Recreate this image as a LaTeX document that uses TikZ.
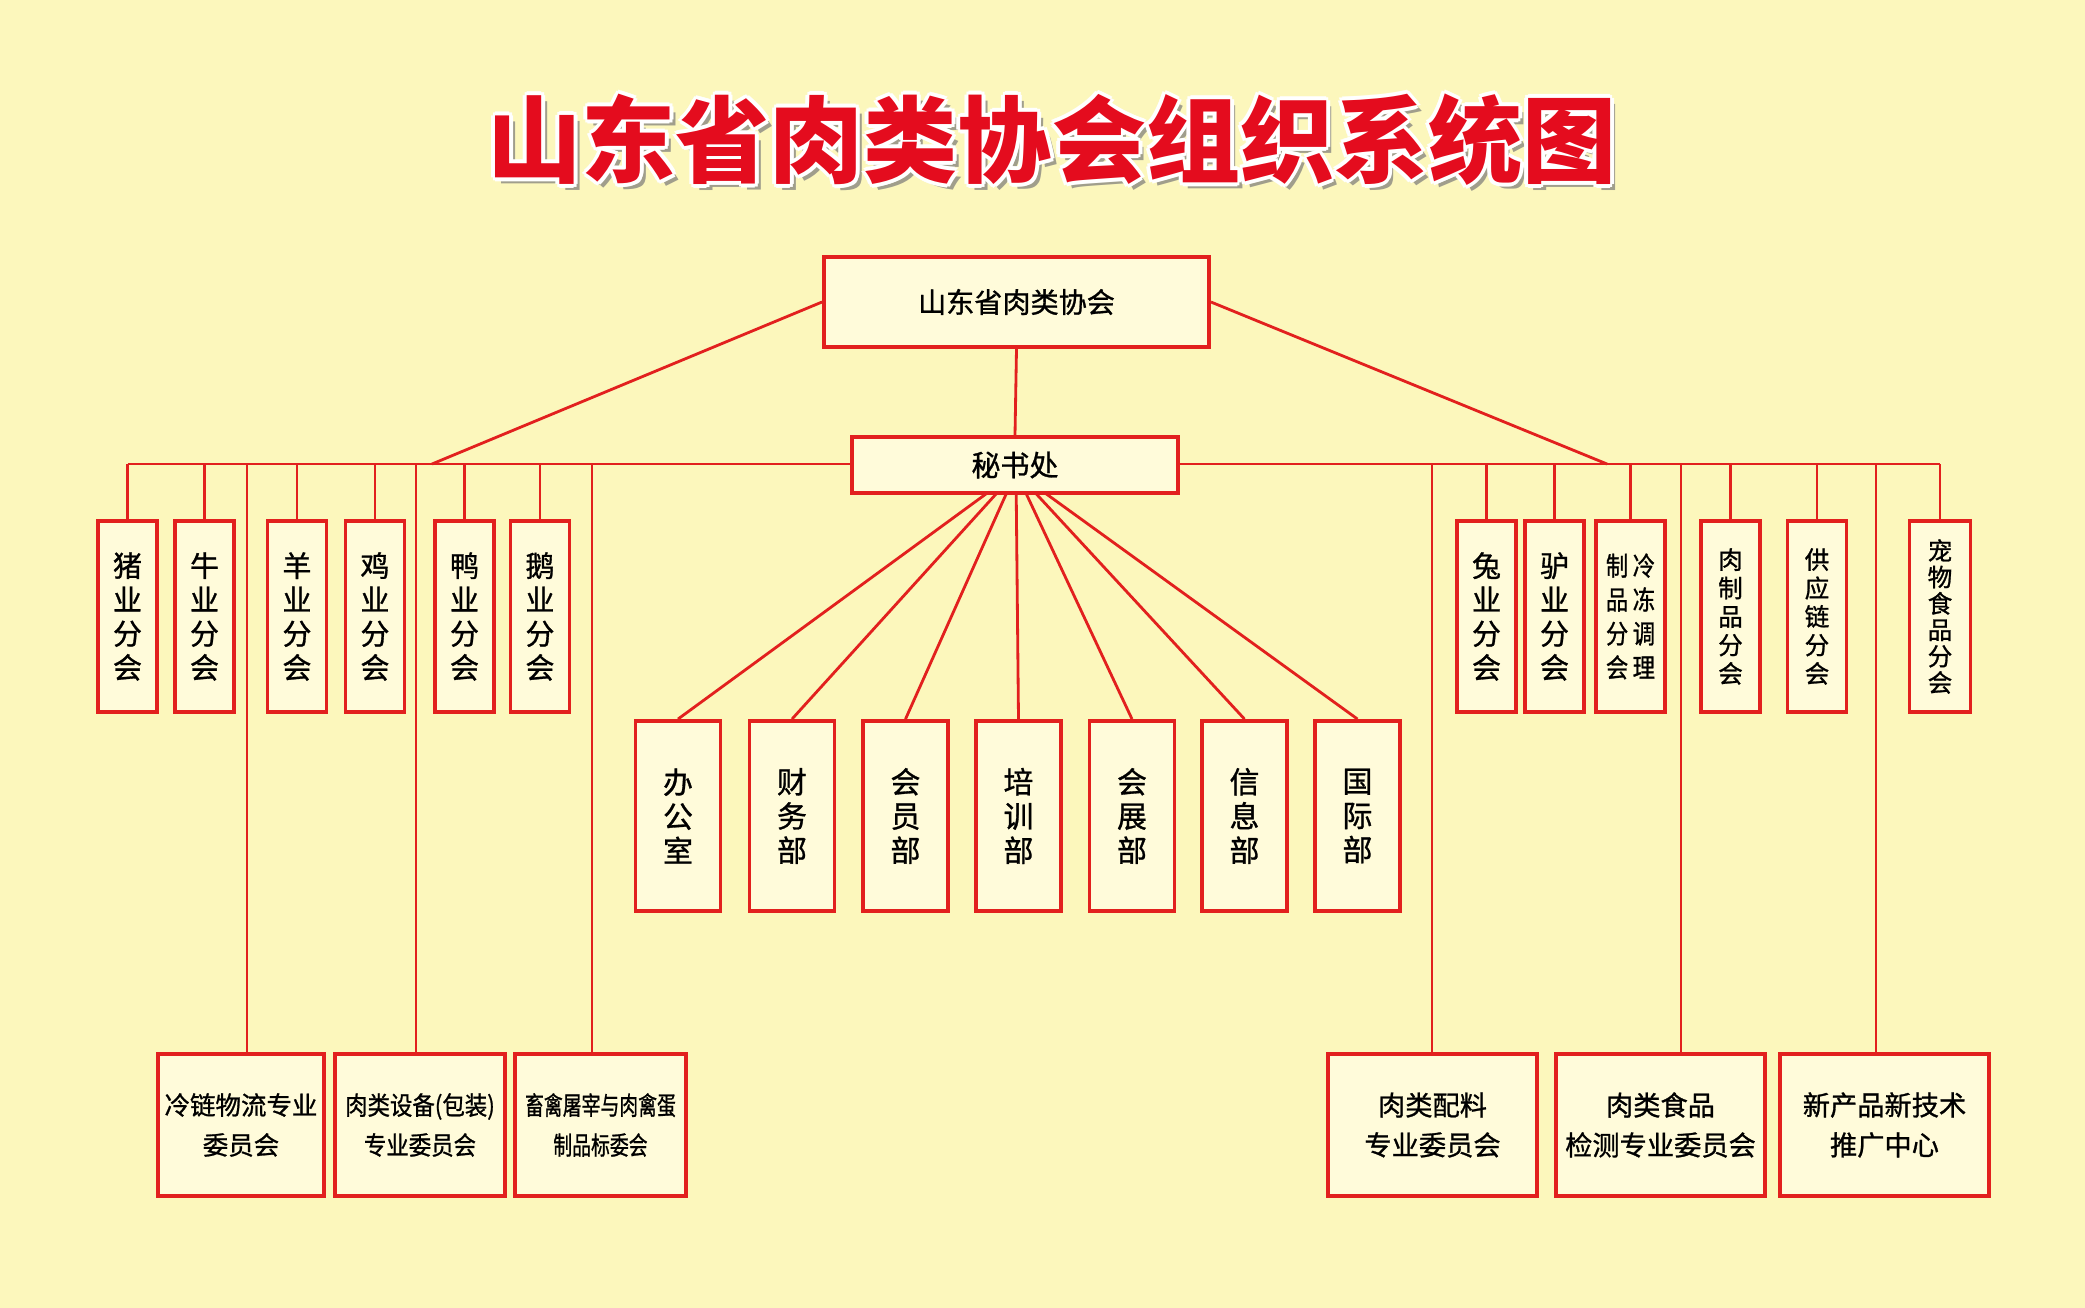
\documentclass[tikz,border=0pt]{standalone}
\usepackage{fontspec}
\usepackage{graphicx}
\newfontfamily\cjk[FakeBold=1]{Noto Sans CJK SC}
\newfontfamily\cjktitle{Noto Sans CJK SC}
\usetikzlibrary{positioning,backgrounds}
\definecolor{bgyellow}{RGB}{252,247,188}
\definecolor{boxcream}{RGB}{255,251,218}
\definecolor{linered}{RGB}{226,32,30}
\definecolor{titlered}{RGB}{228,12,30}
\definecolor{shadowgrey}{RGB}{160,158,140}

\begin{document}
\begin{tikzpicture}[
    unit/.style={rectangle, draw=linered, line width=2.2pt, fill=boxcream, inner sep=0pt, align=center},
    branch/.style={unit, minimum width=1.18cm, minimum height=3.82cm, font=\cjk\fontsize{16.5}{19.3}\selectfont},
    dept/.style={unit, minimum width=1.7cm, minimum height=3.8cm, font=\cjk\fontsize{17}{19.5}\selectfont},
    cmte/.style={unit, minimum height=2.84cm, font=\cjk\fontsize{14.5}{22.7}\selectfont},
    titletext/.style={font=\cjktitle\bfseries\fontsize{53.5}{56}\selectfont, inner sep=0pt},
    link/.style={draw=linered, line width=1.6pt}]
    \useasboundingbox (0,0) rectangle (41.7,-26.16);

    % title with white rim and grey shadow
    \node[titletext, text=shadowgrey, shift={(0.11,-0.11)}] (tshadow) at (21.04,-2.8) {山东省肉类协会组织系统图};
    \foreach \a in {0,45,...,315}
        \node[titletext, text=white, shift={(\a:0.08)}] (trim\a) at (21.04,-2.8) {山东省肉类协会组织系统图};
    \node[titletext, text=titlered] (title) at (21.04,-2.8) {山东省肉类协会组织系统图};

    % head and secretariat
    \node[unit, minimum width=7.7cm, minimum height=1.8cm, font=\cjk\fontsize{16}{18}\selectfont] (assoc) at (20.33,-6.04) {山东省肉类协会};
    \node[unit, minimum width=6.52cm, minimum height=1.12cm, font=\cjk\fontsize{16.5}{18}\selectfont] (mish) at (20.3,-9.3) {秘书处};

    \coordinate (busL) at (2.55,-9.28);
    \coordinate (busR) at (38.8,-9.28);
    \coordinate (forkL) at (8.64,-9.28);
    \coordinate (forkR) at (32.14,-9.28);
    \coordinate (fan) at (20.32,-9.44);

    % branch societies
    \foreach \x/\n/\t in {2.55/zhu/{猪\\业\\分\\会}, 4.09/niu/{牛\\业\\分\\会}, 5.94/yang/{羊\\业\\分\\会},
                          7.5/ji/{鸡\\业\\分\\会}, 9.29/ya/{鸭\\业\\分\\会}, 10.8/e/{鹅\\业\\分\\会},
                          29.73/tu/{兔\\业\\分\\会}, 31.09/lv/{驴\\业\\分\\会}}
        \node[branch] (\n) at (\x,-12.33) {\t};
    \node[branch, minimum width=1.38cm, font=\cjk\fontsize{15}{19.3}\selectfont] (lengdong) at (32.61,-12.33) {\scalebox{0.85}[1]{制}\,\scalebox{0.85}[1]{冷}\\\scalebox{0.85}[1]{品}\,\scalebox{0.85}[1]{冻}\\\scalebox{0.85}[1]{分}\,\scalebox{0.85}[1]{调}\\\scalebox{0.85}[1]{会}\,\scalebox{0.85}[1]{理}};
    \node[branch, font=\cjk\fontsize{14}{16.2}\selectfont] (rouzhi) at (34.61,-12.33) {肉\\制\\品\\分\\会};
    \node[branch, font=\cjk\fontsize{14}{16.2}\selectfont] (gongying) at (36.34,-12.33) {供\\应\\链\\分\\会};
    \node[branch, minimum width=1.22cm, font=\cjk\fontsize{14}{15}\selectfont] (chongwu) at (38.8,-12.33) {宠\\物\\食\\品\\分\\会};

    % departments
    \foreach \x/\n/\t in {13.56/bangong/{办\\公\\室}, 15.84/caiwu/{财\\务\\部}, 18.11/huiyuan/{会\\员\\部},
                          20.37/peixun/{培\\训\\部}, 22.64/huizhan/{会\\展\\部}, 24.89/xinxi/{信\\息\\部},
                          27.15/guoji/{国\\际\\部}}
        \node[dept] (\n) at (\x,-16.32) {\t};

    % committees
    \node[cmte, minimum width=3.32cm] (lengl) at (4.82,-22.5) {冷链物流专业\\委员会};
    \node[cmte, minimum width=3.4cm] (shebei) at (8.4,-22.5) {\scalebox{0.88}[1]{肉类设备(包装)}\\\scalebox{0.88}[1]{专业委员会}};
    \node[cmte, minimum width=3.42cm] (biaowei) at (12.01,-22.5) {\scalebox{0.74}[1]{畜禽屠宰与肉禽蛋}\\\scalebox{0.74}[1]{制品标委会}};
    \node[cmte, minimum width=4.18cm, font=\cjk\fontsize{15.5}{22.7}\selectfont] (peiliao) at (28.65,-22.5) {肉类配料\\专业委员会};
    \node[cmte, minimum width=4.18cm, font=\cjk\fontsize{15.5}{22.7}\selectfont] (jiance) at (33.21,-22.5) {肉类食品\\检测专业委员会};
    \node[cmte, minimum width=4.18cm, font=\cjk\fontsize{15.5}{22.7}\selectfont] (tuiguang) at (37.69,-22.5) {新产品新技术\\推广中心};

    \begin{scope}[on background layer]
        \fill[bgyellow] (0,0) rectangle (41.7,-26.16);
        \draw[link] (busL) -- (busR);
        \draw[link] (assoc.west) -- (forkL);
        \draw[link] (assoc.east) -- (forkR);
        \draw[link] (assoc.south) -- (mish.north);
        \foreach \n in {zhu,niu,yang,ji,ya,e,tu,lv,lengdong,rouzhi,gongying,chongwu}
            \draw[link, line width=1.3pt] (\n.north) -- (\n.north |- busL);
        \foreach \n in {bangong,caiwu,huiyuan,peixun,huizhan,xinxi,guoji}
            \draw[link] (fan) -- (\n.north);
        \foreach \x/\n in {4.94/lengl, 8.32/shebei, 11.84/biaowei, 28.64/peiliao, 33.62/jiance, 37.52/tuiguang} {
            \coordinate (drop\n) at (\x,-9.28);
            \draw[link] (drop\n) -- (drop\n |- \n.north);
        }
    \end{scope}
\end{tikzpicture}
\end{document}
